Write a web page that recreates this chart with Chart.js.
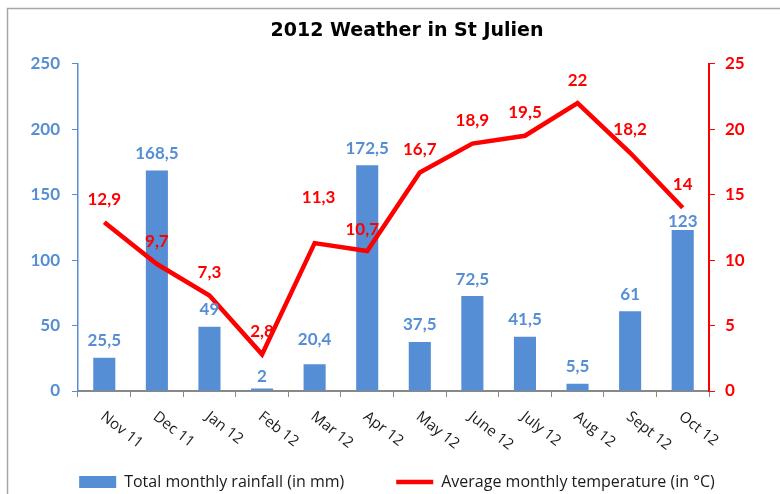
<!DOCTYPE html>
<html>
<head>
<meta charset="utf-8">
<title>2012 Weather in St Julien</title>
<script src="https://cdn.jsdelivr.net/npm/chart.js@4"></script>
<style>
  html, body { margin: 0; padding: 0; background: #fff; }
  #box { position: relative; width: 780px; height: 494px; }
</style>
</head>
<body>
<div id="box"><canvas id="chart"></canvas></div>
<script>
// data
const months = ["Nov 11", "Dec 11", "Jan 12", "Feb 12", "Mar 12", "Apr 12",
  "May 12", "June 12", "July 12", "Aug 12", "Sept 12", "Oct 12"];
const rainfall = [25.5, 168.5, 49, 2, 20.4, 172.5, 37.5, 72.5, 41.5, 5.5, 61, 123];
const temperature = [12.9, 9.7, 7.3, 2.8, 11.3, 10.7, 16.7, 18.9, 19.5, 22, 18.2, 14];
const rainLabel = "Total monthly rainfall (in mm)";
const tempLabel = "Average monthly temperature (in °C)";

const BLUE = "#558ed5";
const RED = "#ff0000";
const PLOT_LEFT = 78, PLOT_RIGHT = 709, PLOT_BOTTOM = 391;
const PAD_LEFT = 14, PAD_BOTTOM = -6;
const TEXT_FONT = "'Open Sans', 'Noto Sans', sans-serif";

Chart.defaults.font.family = "Lato, 'Open Sans', sans-serif";

const comma = v => String(v).replace(".", ",");

// gray frame around the chart
const framePlugin = {
  id: "frame",
  beforeDraw(chart) {
    const ctx = chart.ctx;
    ctx.save();
    ctx.fillStyle = "#fff";
    ctx.fillRect(0, 0, chart.width, chart.height);
    ctx.strokeStyle = "#a6a6a6";
    ctx.lineWidth = 1.5;
    ctx.strokeRect(7.5, 8.5, 900, 900);
    ctx.restore();
  },
  afterLayout(chart) {
    // title sits a bit right of the canvas middle
    chart.titleBlock.left += 20;
  }
};

// value labels over bars and line
const valuesPlugin = {
  id: "values",
  afterDatasetsDraw(chart) {
    const ctx = chart.ctx;
    ctx.save();
    ctx.textAlign = "center";
    ctx.textBaseline = "middle";
    ctx.font = "bold 17px Lato, sans-serif";

    const barNudge = { 3: 5, 4: -8, 11: 8 };
    ctx.fillStyle = BLUE;
    chart.getDatasetMeta(0).data.forEach((el, i) => {
      ctx.fillText(comma(rainfall[i]), el.x, el.y - 17 + (barNudge[i] || 0));
    });

    const tempNudge = { 4: [4, -23], 5: [-5, 2] };
    ctx.fillStyle = RED;
    chart.getDatasetMeta(1).data.forEach((el, i) => {
      const n = tempNudge[i] || [0, 0];
      ctx.fillText(comma(temperature[i]), el.x + n[0], el.y - 23 + n[1]);
    });
    ctx.restore();
  }
};

// slanted month labels (reading downwards to the right)
const monthPlugin = {
  id: "months",
  afterDraw(chart) {
    const ctx = chart.ctx, xs = chart.scales.x;
    ctx.save();
    ctx.font = "15px " + TEXT_FONT;
    ctx.fillStyle = "#1a1a1a";
    ctx.textAlign = "left";
    ctx.textBaseline = "middle";
    months.forEach((m, i) => {
      ctx.save();
      ctx.translate(xs.getPixelForTick(i) - 2, xs.top + 24);
      ctx.rotate(38 * Math.PI / 180);
      ctx.fillText(m, 0, 0);
      ctx.restore();
    });
    ctx.restore();
  }
};

new Chart(document.getElementById("chart"), {
  data: {
    labels: months,
    datasets: [
      {
        type: "bar",
        label: rainLabel,
        data: rainfall,
        backgroundColor: BLUE,
        barPercentage: 0.42,
        categoryPercentage: 1,
        pointStyle: "rect",
        yAxisID: "y",
        order: 1
      },
      {
        type: "line",
        label: tempLabel,
        data: temperature,
        borderColor: RED,
        backgroundColor: RED,
        borderWidth: 4.5,
        borderJoinStyle: "miter",
        pointRadius: 0,
        pointStyle: "line",
        tension: 0,
        yAxisID: "y2",
        order: 0
      }
    ]
  },
  options: {
    responsive: true,
    maintainAspectRatio: false,
    animation: false,
    layout: { padding: { left: PAD_LEFT, right: 0, top: 0, bottom: PAD_BOTTOM } },
    plugins: {
      tooltip: { enabled: false },
      title: {
        display: true,
        text: "2012 Weather in St Julien",
        color: "#000",
        font: { family: "'DejaVu Sans', sans-serif", size: 19, weight: "bold" },
        padding: { top: 20, bottom: 21 }
      },
      legend: {
        position: "bottom",
        labels: {
          usePointStyle: true,
          pointStyleWidth: 37,
          boxHeight: 12,
          padding: 52,
          color: "#1a1a1a",
          font: { family: TEXT_FONT, size: 16 },
          sort: (a, b) => a.datasetIndex - b.datasetIndex
        }
      }
    },
    scales: {
      x: {
        grid: { offset: true, drawOnChartArea: false, tickLength: 6, color: "#888" },
        border: { color: "#888", width: 2 },
        ticks: { display: false },
        afterFit(s) { s.height = s.chart.height - PAD_BOTTOM - PLOT_BOTTOM - s.chart.legend.height; }
      },
      y: {
        position: "left",
        min: 0, max: 250,
        ticks: { stepSize: 50, color: BLUE, padding: 12, font: { size: 17, weight: "bold" } },
        grid: { drawOnChartArea: false, tickLength: 6, color: BLUE },
        border: { color: BLUE, width: 1.5 },
        afterFit(s) { s.width = PLOT_LEFT - PAD_LEFT; }
      },
      y2: {
        position: "right",
        min: 0, max: 25,
        ticks: { stepSize: 5, color: RED, padding: 10, font: { size: 17, weight: "bold" } },
        grid: { drawOnChartArea: false, tickLength: 6, color: RED },
        border: { color: RED, width: 2 },
        afterFit(s) { s.width = 780 - PLOT_RIGHT; }
      }
    }
  },
  plugins: [framePlugin, valuesPlugin, monthPlugin]
});
</script>
</body>
</html>
